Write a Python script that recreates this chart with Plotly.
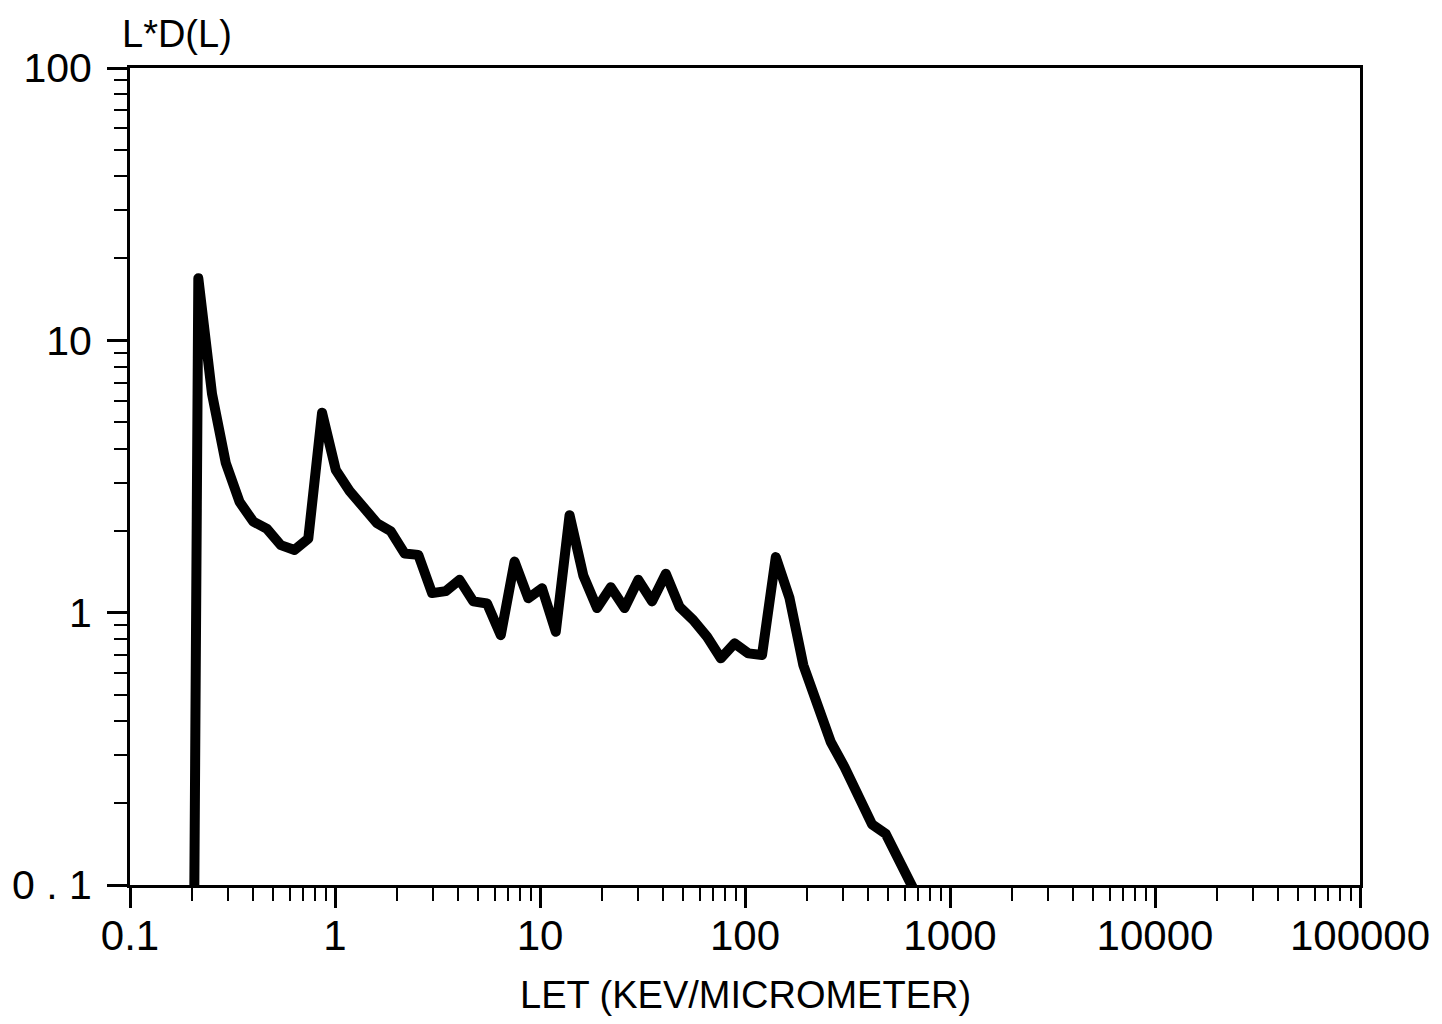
import plotly.graph_objects as go

# LET values (keV/micrometer)
let_values = [
    0.206, 0.2154, 0.2513, 0.2934, 0.3423, 0.3995, 0.4662, 0.5440, 0.6348, 0.7408,
    0.8646, 1.009, 1.178, 1.374, 1.604, 1.872, 2.184, 2.549, 2.975, 3.471,
    4.051, 4.728, 5.517, 6.438, 7.513, 8.769, 10.23, 11.94, 13.94, 16.26,
    18.98, 22.15, 25.85, 30.17, 35.21, 41.09, 47.95, 55.96, 65.31, 76.21,
    88.94, 103.8, 121.1, 141.3, 164.9, 192.5, 224.6, 262.1, 305.9, 357.0,
    416.7, 486.2, 567.5, 662.2,
]
# L*D(L)
ld_values = [
    0.1, 16.9, 6.35, 3.54, 2.55, 2.16, 2.03, 1.77, 1.70, 1.87,
    5.42, 3.34, 2.80, 2.45, 2.13, 1.99, 1.65, 1.63, 1.18, 1.20,
    1.32, 1.10, 1.08, 0.827, 1.54, 1.13, 1.23, 0.851, 2.28, 1.37,
    1.04, 1.24, 1.04, 1.32, 1.10, 1.39, 1.05, 0.939, 0.816, 0.680,
    0.771, 0.709, 0.699, 1.60, 1.13, 0.642, 0.450, 0.335, 0.271, 0.211,
    0.167, 0.154, 0.120, 0.097,
]

x_tick_vals = [0.1, 1, 10, 100, 1000, 10000, 100000]
x_tick_text = ["0.1", "1", "10", "100", "1000", "10000", "100000"]
y_tick_vals = [0.1, 1, 10, 100]
y_tick_text = ["0 . 1", "1", "10", "100"]

x_title = "LET (KEV/MICROMETER)"
y_title = "L*D(L)"

FONT = "Liberation Sans, Arial, sans-serif"

fig = go.Figure()
fig.add_trace(go.Scatter(
    x=let_values, y=ld_values, mode="lines",
    line=dict(color="black", width=10),
    showlegend=False, hoverinfo="skip",
))

axis_common = dict(
    type="log",
    showgrid=False, zeroline=False,
    showline=True, linecolor="black", linewidth=3, mirror=True,
    ticks="outside", ticklen=20, tickwidth=3, tickcolor="black",
    tickmode="array",
    minor=dict(ticks="outside", ticklen=13, tickwidth=2, tickcolor="black",
               dtick="D1", showgrid=False),
)

fig.update_xaxes(
    **axis_common,
    range=[-1, 5],
    tickvals=x_tick_vals, ticktext=x_tick_text,
    tickfont=dict(family=FONT, size=42, color="black"),
    ticklabelstandoff=-8,
)
fig.update_yaxes(
    **axis_common,
    range=[-1, 2],
    tickvals=y_tick_vals, ticktext=y_tick_text,
    tickfont=dict(family=FONT, size=41, color="black"),
    ticklabelstandoff=7,
)

fig.add_annotation(
    text=y_title, xref="paper", yref="paper",
    x=(177 - 130) / 1230, y=1 + (68 - 34) / 817,
    xanchor="center", yanchor="middle", showarrow=False,
    font=dict(family=FONT, size=38, color="black"),
)
fig.add_annotation(
    text=x_title, xref="paper", yref="paper",
    x=0.5, y=-(995 - 885) / 817,
    xanchor="center", yanchor="middle", showarrow=False,
    font=dict(family=FONT, size=38, color="black"),
)

fig.update_layout(
    width=1442, height=1024,
    margin=dict(l=130, r=82, t=68, b=139, pad=0),
    paper_bgcolor="white", plot_bgcolor="white",
)

post = (
    "var s=document.createElement('style');"
    "s.innerHTML='.scatterlayer path.js-line{stroke-linejoin:round !important;}';"
    "document.head.appendChild(s);"
)
fig.write_html("out.html", post_script=post)
